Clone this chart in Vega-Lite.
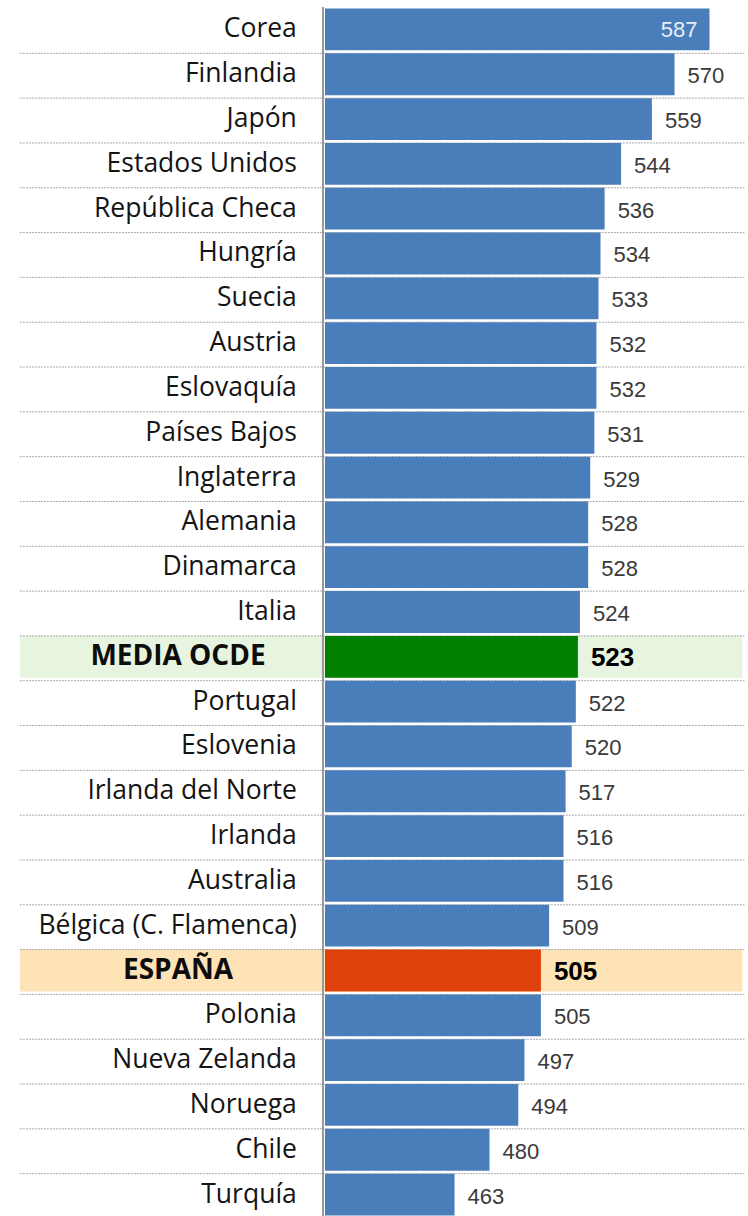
{
  "$schema": "https://vega.github.io/schema/vega-lite/v6.json",
  "width": 748,
  "height": 1210,
  "autosize": {"type": "none"},
  "padding": {"top": 7, "left": 0, "right": 0, "bottom": 0},
  "background": "white",
  "config": {"view": {"stroke": null}},
  "data": {
    "values": [
      {"pais": "Corea", "valor": 587, "grupo": "pais"},
      {"pais": "Finlandia", "valor": 570, "grupo": "pais"},
      {"pais": "Japón", "valor": 559, "grupo": "pais"},
      {"pais": "Estados Unidos", "valor": 544, "grupo": "pais"},
      {"pais": "República Checa", "valor": 536, "grupo": "pais"},
      {"pais": "Hungría", "valor": 534, "grupo": "pais"},
      {"pais": "Suecia", "valor": 533, "grupo": "pais"},
      {"pais": "Austria", "valor": 532, "grupo": "pais"},
      {"pais": "Eslovaquía", "valor": 532, "grupo": "pais"},
      {"pais": "Países Bajos", "valor": 531, "grupo": "pais"},
      {"pais": "Inglaterra", "valor": 529, "grupo": "pais"},
      {"pais": "Alemania", "valor": 528, "grupo": "pais"},
      {"pais": "Dinamarca", "valor": 528, "grupo": "pais"},
      {"pais": "Italia", "valor": 524, "grupo": "pais"},
      {"pais": "MEDIA OCDE", "valor": 523, "grupo": "media"},
      {"pais": "Portugal", "valor": 522, "grupo": "pais"},
      {"pais": "Eslovenia", "valor": 520, "grupo": "pais"},
      {"pais": "Irlanda del Norte", "valor": 517, "grupo": "pais"},
      {"pais": "Irlanda", "valor": 516, "grupo": "pais"},
      {"pais": "Australia", "valor": 516, "grupo": "pais"},
      {"pais": "Bélgica (C. Flamenca)", "valor": 509, "grupo": "pais"},
      {"pais": "ESPAÑA", "valor": 505, "grupo": "espana"},
      {"pais": "Polonia", "valor": 505, "grupo": "pais"},
      {"pais": "Nueva Zelanda", "valor": 497, "grupo": "pais"},
      {"pais": "Noruega", "valor": 494, "grupo": "pais"},
      {"pais": "Chile", "valor": 480, "grupo": "pais"},
      {"pais": "Turquía", "valor": 463, "grupo": "pais"}
    ]
  },
  "layer": [
    {
      "transform": [{"filter": "datum.grupo !== 'pais'"}],
      "mark": {"type": "bar"},
      "encoding": {
        "y": {
          "field": "pais",
          "type": "nominal",
          "sort": null,
          "axis": null,
          "scale": {
            "domain": ["Corea", "Finlandia", "Japón", "Estados Unidos", "República Checa", "Hungría", "Suecia", "Austria", "Eslovaquía", "Países Bajos", "Inglaterra", "Alemania", "Dinamarca", "Italia", "MEDIA OCDE", "Portugal", "Eslovenia", "Irlanda del Norte", "Irlanda", "Australia", "Bélgica (C. Flamenca)", "ESPAÑA", "Polonia", "Nueva Zelanda", "Noruega", "Chile", "Turquía"],
            "paddingInner": 0.067,
            "paddingOuter": 0.034
          }
        },
        "x": {"datum": 251.6, "type": "quantitative", "scale": {"domain": [241.93, 605.73], "nice": false, "zero": false}, "axis": null},
        "x2": {"datum": 603},
        "color": {"condition": {"test": "datum.grupo === 'media'", "value": "#e7f4df"}, "value": "#fde3b5"}
      }
    },
    {
      "transform": [{"filter": "datum.pais !== 'Corea'"}],
      "mark": {"type": "rule", "strokeDash": [2, 1], "color": "#a8a8a8", "strokeWidth": 1},
      "encoding": {
        "y": {"field": "pais", "type": "nominal", "sort": null, "bandPosition": 0},
        "x": {"datum": 251.6, "type": "quantitative"},
        "x2": {"datum": 604}
      }
    },
    {
      "mark": {"type": "rule", "color": "#9a9a9a", "strokeWidth": 1},
      "encoding": {"x": {"datum": 399, "type": "quantitative"}}
    },
    {
      "mark": {"type": "bar"},
      "encoding": {
        "y": {"field": "pais", "type": "nominal", "sort": null},
        "x": {"field": "valor", "type": "quantitative"},
        "x2": {"datum": 400},
        "color": {
          "condition": [
            {"test": "datum.grupo === 'media'", "value": "#007f00"},
            {"test": "datum.grupo === 'espana'", "value": "#e0400a"}
          ],
          "value": "#4a7ebb"
        }
      }
    },
    {
      "transform": [{"filter": "datum.grupo === 'pais'"}],
      "mark": {"type": "text", "align": "right", "baseline": "middle", "font": "Open Sans", "fontSize": 26.5, "color": "#141414"},
      "encoding": {
        "y": {"field": "pais", "type": "nominal", "sort": null},
        "x": {"datum": 386.3, "type": "quantitative"},
        "text": {"field": "pais"}
      }
    },
    {
      "transform": [{"filter": "datum.grupo !== 'pais'"}],
      "mark": {"type": "text", "align": "center", "baseline": "middle", "font": "Open Sans", "fontSize": 28, "fontWeight": "bold", "color": "#0d0d0d"},
      "encoding": {
        "y": {"field": "pais", "type": "nominal", "sort": null},
        "x": {"datum": 328.5, "type": "quantitative"},
        "text": {"field": "pais"}
      }
    },
    {
      "transform": [{"filter": "datum.grupo === 'pais' && datum.pais !== 'Corea'"}],
      "mark": {"type": "text", "align": "left", "baseline": "middle", "dx": 13, "dy": 2, "font": "Liberation Sans", "fontSize": 22, "color": "#3a3a3a"},
      "encoding": {
        "y": {"field": "pais", "type": "nominal", "sort": null},
        "x": {"field": "valor", "type": "quantitative"},
        "text": {"field": "valor"}
      }
    },
    {
      "transform": [{"filter": "datum.pais === 'Corea'"}],
      "mark": {"type": "text", "align": "right", "baseline": "middle", "dx": -12, "dy": 1, "font": "Liberation Sans", "fontSize": 22, "color": "#e8eef7"},
      "encoding": {
        "y": {"field": "pais", "type": "nominal", "sort": null},
        "x": {"field": "valor", "type": "quantitative"},
        "text": {"field": "valor"}
      }
    },
    {
      "transform": [{"filter": "datum.grupo !== 'pais'"}],
      "mark": {"type": "text", "align": "left", "baseline": "middle", "dx": 13, "dy": 1, "font": "Liberation Sans", "fontSize": 26, "fontWeight": "bold", "color": "#000000"},
      "encoding": {
        "y": {"field": "pais", "type": "nominal", "sort": null},
        "x": {"field": "valor", "type": "quantitative"},
        "text": {"field": "valor"}
      }
    }
  ]
}
